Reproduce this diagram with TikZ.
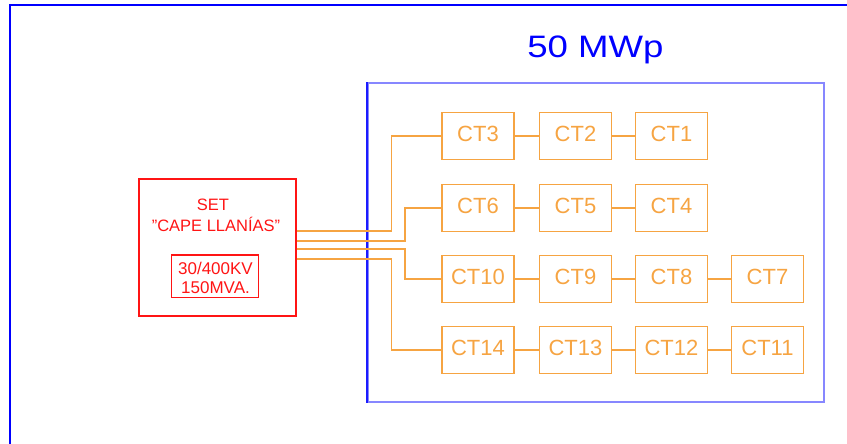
\documentclass[tikz,border=0pt]{standalone}
\usepackage{fontspec}
\setmainfont{Liberation Sans}
\definecolor{ctorange}{RGB}{246,164,66}
\definecolor{frameblue}{RGB}{0,0,255}
\definecolor{fieldblue}{RGB}{135,135,255}
\definecolor{setred}{RGB}{255,20,20}
\tikzset{
  ctbox/.style={draw=ctorange, line width=1.6pt, minimum width=72pt, minimum height=47pt,
    inner sep=0pt, text=ctorange, font=\fontsize{22}{26}\selectfont, text depth=5pt},
  wire/.style={draw=ctorange, line width=1.6pt},
  redtext/.style={text=setred, inner sep=0pt, anchor=base, font=\fontsize{16.5}{19}\selectfont},
}
\begin{document}
\begin{tikzpicture}[x=1pt,y=-1pt]
\useasboundingbox (0,0) rectangle (847,444);
% outer frame
\draw[frameblue, line width=2pt] (10,444) -- (10,5.5) -- (847,5.5);
% field box
\node[draw=fieldblue, line width=1.8pt, minimum width=456pt, minimum height=319pt, inner sep=0pt] (field) at (596,242.5) {};
\draw[frameblue!80!fieldblue, line width=1.8pt] (field.south west) -- (field.north west);
\node[text=frameblue, inner sep=0pt, anchor=base, font=\fontsize{31}{34}\selectfont] (title) at (595.5,57.3) {\scalebox{1.18}[1]{50 MWp}};
% substation
\node[draw=setred, line width=1.8pt, minimum width=157pt, minimum height=137pt, inner sep=0pt] (set) at (217.5,247.5) {};
\node[redtext] (t1) at (213,210) {SET};
\node[redtext] (t2) at (216,231.5) {\symbol{34}CAPE LLANÍAS\symbol{34}};
\node[draw=setred, line width=1.4pt, minimum width=86.6pt, minimum height=42.7pt, inner sep=0pt] (rating) at (215,276.3) {};
\node[redtext, font=\fontsize{17}{19}\selectfont] (t3) at (215.5,274) {30/400KV};
\node[redtext, font=\fontsize{17}{19}\selectfont] (t4) at (215.5,293) {150MVA.};
% CT boxes
\node[ctbox] (ct3) at (478,136) {CT3};
\node[ctbox] (ct2) at (575.5,136) {CT2};
\node[ctbox] (ct1) at (671.5,136) {CT1};
\node[ctbox] (ct6) at (478,208) {CT6};
\node[ctbox] (ct5) at (575.5,208) {CT5};
\node[ctbox] (ct4) at (671.5,208) {CT4};
\node[ctbox] (ct10) at (478,279) {CT10};
\node[ctbox] (ct9) at (575.5,279) {CT9};
\node[ctbox] (ct8) at (671.5,279) {CT8};
\node[ctbox] (ct7) at (767.5,279) {CT7};
\node[ctbox] (ct14) at (478,350) {CT14};
\node[ctbox] (ct13) at (575.5,350) {CT13};
\node[ctbox] (ct12) at (671.5,350) {CT12};
\node[ctbox] (ct11) at (767.5,350) {CT11};
% chains
\draw[wire] (ct3) -- (ct2); \draw[wire] (ct2) -- (ct1);
\draw[wire] (ct6) -- (ct5); \draw[wire] (ct5) -- (ct4);
\draw[wire] (ct10) -- (ct9); \draw[wire] (ct9) -- (ct8); \draw[wire] (ct8) -- (ct7);
\draw[wire] (ct14) -- (ct13); \draw[wire] (ct13) -- (ct12); \draw[wire] (ct12) -- (ct11);
% feeders from substation
\coordinate (p1) at ([yshift=16.5pt]set.east);
\coordinate (p2) at ([yshift=6.5pt]set.east);
\coordinate (p3) at ([yshift=-1.5pt]set.east);
\coordinate (p4) at ([yshift=-11.5pt]set.east);
\draw[wire] (p1) -- ++(94.5,0) |- (ct3.west);
\draw[wire] (p2) -- ++(108,0) |- (ct6.west);
\draw[wire] (p3) -- ++(108,0) |- (ct10.west);
\draw[wire] (p4) -- ++(94.5,0) |- (ct14.west);
\end{tikzpicture}
\end{document}
